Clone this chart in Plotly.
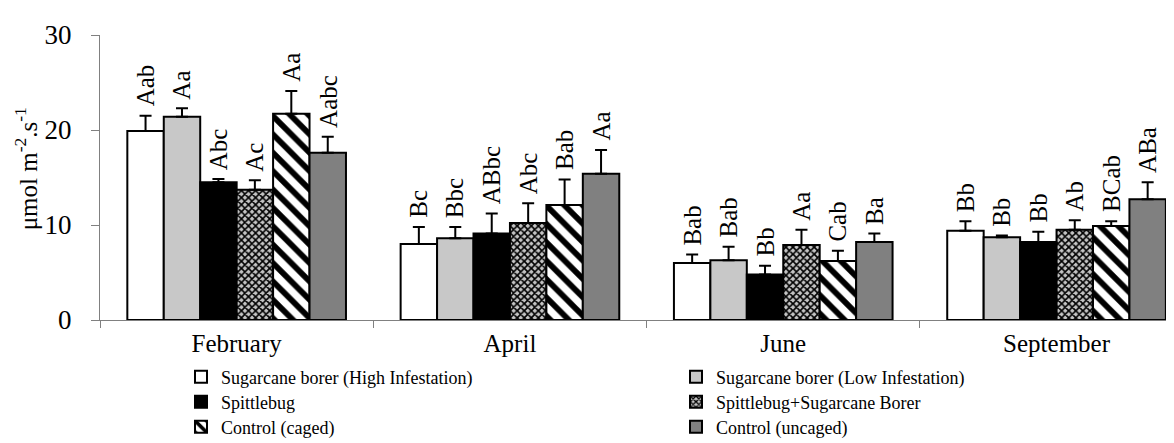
import plotly.graph_objects as go

# ---------------- data ----------------
months = ["February", "April", "June", "September"]
treatments = [
    "Sugarcane borer (High Infestation)",
    "Sugarcane borer (Low Infestation)",
    "Spittlebug",
    "Spittlebug+Sugarcane Borer",
    "Control (caged)",
    "Control (uncaged)",
]

high = [19.9, 8.0, 6.0, 9.4]
low = [21.4, 8.6, 6.3, 8.7]
spit = [14.5, 9.1, 4.8, 8.2]
spit_sb = [13.7, 10.2, 7.9, 9.5]
caged = [21.7, 12.1, 6.2, 9.9]
uncaged = [17.6, 15.4, 8.2, 12.7]

high_se = [1.6, 1.8, 0.9, 1.0]
low_se = [0.9, 1.2, 1.4, 0.2]
spit_se = [0.35, 2.1, 0.9, 1.1]
spit_sb_se = [1.0, 2.1, 1.6, 1.0]
caged_se = [2.4, 2.7, 1.1, 0.5]
uncaged_se = [1.7, 2.5, 0.9, 1.8]

high_lbl = ["Aab", "Bc", "Bab", "Bb"]
low_lbl = ["Aa", "Bbc", "Bab", "Bb"]
spit_lbl = ["Abc", "ABbc", "Bb", "Bb"]
spit_sb_lbl = ["Ac", "Abc", "Aa", "Ab"]
caged_lbl = ["Aa", "Bab", "Cab", "BCab"]
uncaged_lbl = ["Aabc", "Aa", "Ba", "ABa"]

y_ticks = [0, 10, 20, 30]
y_title = "μmol m<sup>-2</sup>.s<sup>-1</sup>"

values = [high, low, spit, spit_sb, caged, uncaged]
errors = [high_se, low_se, spit_se, spit_sb_se, caged_se, uncaged_se]
labels = [high_lbl, low_lbl, spit_lbl, spit_sb_lbl, caged_lbl, uncaged_lbl]

# ---------------- styles ----------------
FONT = "Liberation Serif"
BARGAP = 0.2
styles = [
    dict(color="white", pattern=dict(shape="")),
    dict(color="#c8c8c8", pattern=dict(shape="")),
    dict(color="black", pattern=dict(shape="")),
    dict(color="#b0b0b0", pattern=dict(shape="x", fgcolor="#000000", bgcolor="#c4c4c4",
                                       size=5, solidity=0.55, fillmode="replace")),
    dict(color="white", pattern=dict(shape="\\", fgcolor="black", bgcolor="white",
                                     size=13, solidity=0.45, fillmode="replace")),
    dict(color="#808080", pattern=dict(shape="")),
]
legend_pos = [
    (173 / 1174, 1 - 369 / 443), (668 / 1174, 1 - 369 / 443),
    (173 / 1174, 1 - 394 / 443), (668 / 1174, 1 - 394 / 443),
    (173 / 1174, 1 - 419 / 443), (668 / 1174, 1 - 419 / 443),
]

fig = go.Figure()
n = len(treatments)
for i, (name, vals, errs, st) in enumerate(zip(treatments, values, errors, styles)):
    fig.add_trace(go.Bar(
        name=name, x=months, y=vals,
        marker=dict(color=st["color"], pattern=st["pattern"],
                    line=dict(color="black", width=2)),
        error_y=dict(type="data", array=errs, arrayminus=[0] * len(errs),
                     symmetric=False, color="black", thickness=2, width=6),
        legend="legend" if i == 0 else f"legend{i + 1}",
    ))

# significance letters above each error bar
for i in range(n):
    for j, m in enumerate(months):
        xpos = j + (i - (n - 1) / 2) * (1 - BARGAP) / n
        fig.add_annotation(
            x=xpos, y=values[i][j] + errors[i][j], xref="x", yref="y",
            text=labels[i][j], textangle=-90, showarrow=False,
            xanchor="center", yanchor="bottom", yshift=7,
            font=dict(family=FONT, size=25, color="black"),
        )

# y-axis title
fig.add_annotation(
    x=-0.068, y=0.53, xref="paper", yref="paper", text=y_title,
    textangle=-90, showarrow=False, xanchor="center", yanchor="middle",
    font=dict(family=FONT, size=25, color="black"),
)

layout_legends = {}
for i, (lx, ly) in enumerate(legend_pos):
    key = "legend" if i == 0 else f"legend{i + 1}"
    layout_legends[key] = dict(
        x=lx, y=ly, xref="container", yref="container",
        xanchor="left", yanchor="middle", orientation="h",
        font=dict(family=FONT, size=18, color="black"),
        bgcolor="rgba(0,0,0,0)", itemwidth=30,
    )

fig.update_layout(
    width=1174, height=443,
    margin=dict(l=92, r=0, t=27, b=131),
    paper_bgcolor="white", plot_bgcolor="white",
    barmode="group", bargap=BARGAP, bargroupgap=0,
    font=dict(family=FONT, size=26, color="black"),
    showlegend=True,
    **layout_legends,
)
fig.update_xaxes(
    range=[-0.5, 3.459], showline=True, linecolor="#808080", linewidth=1,
    ticks="outside", tickson="boundaries", ticklen=7, tickcolor="#808080",
    showgrid=False, ticklabelstandoff=1,
    tickfont=dict(family=FONT, size=25, color="black"),
)
fig.update_yaxes(
    range=[0, 30], tickvals=y_ticks, showline=True, linecolor="#808080", linewidth=1,
    ticks="outside", ticklen=8, tickcolor="#808080", showgrid=False, zeroline=False,
    ticklabelstandoff=14,
    tickfont=dict(family=FONT, size=27, color="black"),
)

fig.write_html("out.html")
